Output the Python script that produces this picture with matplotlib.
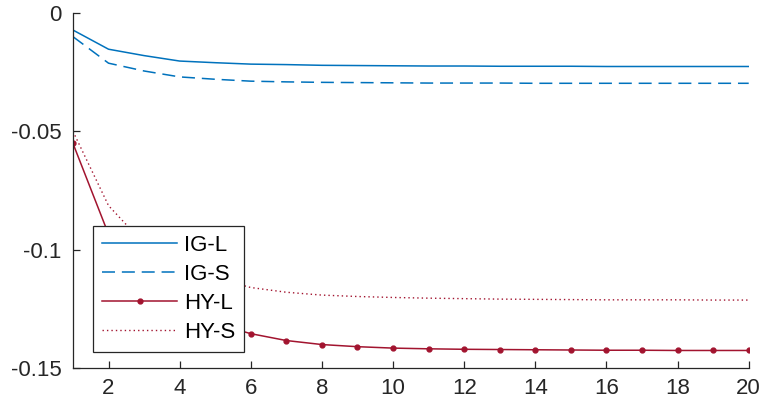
import matplotlib
matplotlib.use("Agg")
import matplotlib.pyplot as plt
import numpy as np

plt.rcParams['font.family'] = ['Liberation Sans', 'DejaVu Sans']
plt.rcParams['axes.unicode_minus'] = False

horizon = list(range(1, 21))
ig_l = [-0.0072, -0.0153, -0.0180, -0.0203, -0.0210, -0.0216, -0.0218, -0.0221, -0.0222, -0.0223,
        -0.0224, -0.0224, -0.0225, -0.0225, -0.0225, -0.0226, -0.0226, -0.0226, -0.0226, -0.0226]
ig_s = [-0.0100, -0.0212, -0.0245, -0.0270, -0.0280, -0.0288, -0.0291, -0.0293, -0.0294, -0.0295,
        -0.0296, -0.0296, -0.0296, -0.0297, -0.0297, -0.0297, -0.0297, -0.0297, -0.0297, -0.0297]
hy_l = [-0.0551, -0.0935, -0.1130, -0.1245, -0.1312, -0.1355, -0.1384, -0.1401, -0.1410, -0.1416,
        -0.1419, -0.1421, -0.1422, -0.1423, -0.1424, -0.1425, -0.1425, -0.1426, -0.1426, -0.1426]
hy_s = [-0.0500, -0.0814, -0.0975, -0.1070, -0.1120, -0.1160, -0.1180, -0.1192, -0.1198, -0.1202,
        -0.1205, -0.1207, -0.1209, -0.1210, -0.1211, -0.1212, -0.1212, -0.1212, -0.1213, -0.1213]
labels = ['IG-L', 'IG-S', 'HY-L', 'HY-S']
xticks = list(range(2, 21, 2))
yticks = [-0.15, -0.1, -0.05, 0]
ytick_labels = ['-0.15', '-0.1', '-0.05', '0']

blue = '#0072BD'
red = '#A2142F'
dark = '#262626'

fig = plt.figure(figsize=(7.64, 4.13), dpi=100)
ax = fig.add_axes([0.0955, 0.109, 0.8845, 0.8595])

ax.plot(horizon, ig_l, color=blue, lw=1.1, label=labels[0])
ax.plot(horizon, ig_s, color=blue, lw=1.1, linestyle=(0, (8.5, 4.5)), label=labels[1])
ax.plot(horizon, hy_l, color=red, lw=1.1, marker='o', markersize=3.5, label=labels[2])
ax.plot(horizon, hy_s, color=red, lw=1.0, linestyle=(0, (1, 2.2)), label=labels[3])

ax.set_xlim(1, 20)
ax.set_ylim(-0.15, 0)
ax.set_xticks(xticks)
ax.set_yticks(yticks)
ax.set_yticklabels(ytick_labels)

for s in ['top', 'right']:
    ax.spines[s].set_visible(False)
for s in ['left', 'bottom']:
    ax.spines[s].set_color(dark)
    ax.spines[s].set_linewidth(0.9)

ax.tick_params(axis='both', direction='in', length=5, width=0.9, color=dark,
               labelcolor=dark, labelsize=16)
ax.tick_params(axis='x', pad=7)
ax.tick_params(axis='y', pad=8)

leg = ax.legend(loc='lower left', bbox_to_anchor=(0.0296, 0.045), borderaxespad=0,
                fontsize=16, handlelength=3.4, handletextpad=0.3, labelspacing=0.36,
                fancybox=False, framealpha=1, edgecolor=dark, borderpad=0.4)
leg.get_frame().set_linewidth(0.9)

fig.savefig('out.png', dpi=100)
